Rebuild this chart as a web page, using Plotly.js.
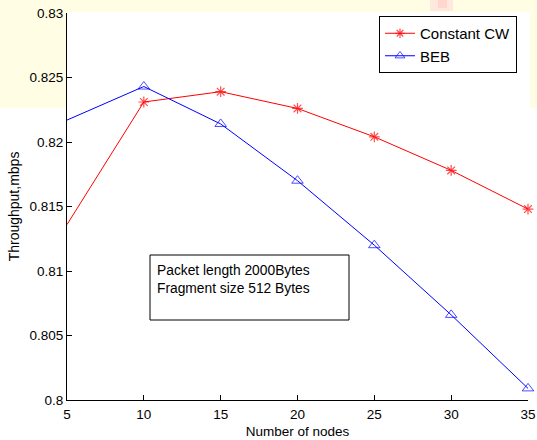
<!DOCTYPE html>
<html>
<head>
<meta charset="utf-8">
<script src="https://cdn.plot.ly/plotly-3.0.1.min.js"></script>
<style>
  html, body { margin: 0; padding: 0; background: #ffffff; }
  #chart { width: 537px; height: 440px; }
</style>
</head>
<body>
<div id="chart"></div>
<script>
// ---- data ----
const nodes = [5, 10, 15, 20, 25, 30, 35];
const constantCW = [0.8136, 0.8231, 0.8239, 0.8226, 0.8204, 0.8178, 0.8148];
const beb = [0.8217, 0.8243, 0.8214, 0.8170, 0.8120, 0.8066, 0.8009];
const seriesNames = ['Constant CW', 'BEB'];
const xTickVals = [5, 10, 15, 20, 25, 30, 35];
const yTickVals = [0.8, 0.805, 0.81, 0.815, 0.82, 0.825, 0.83];
const yTickText = ['0.8', '0.805', '0.81', '0.815', '0.82', '0.825', '0.83'];
const noteLines = ['Packet length 2000Bytes', 'Fragment size 512 Bytes'];
const xTitle = 'Number of nodes';
const yTitle = 'Throughput,mbps';

const FONT = 'Liberation Sans, Arial, Helvetica, sans-serif';
// first point sits on the axis edge and shows no marker in the reference
const markerSizes = (s) => nodes.map((_, i) => (i === 0 ? 0 : s));

const traces = [
  {
    x: nodes, y: constantCW, name: seriesNames[0], type: 'scatter', mode: 'lines+markers',
    line: { color: '#ff0000', width: 1 },
    marker: { symbol: 'asterisk-open', size: markerSizes(9), color: '#ff0000',
              line: { color: '#ff0000', width: 1.2 } },
    cliponaxis: false
  },
  {
    x: nodes, y: beb, name: seriesNames[1], type: 'scatter', mode: 'lines+markers',
    line: { color: '#0000ff', width: 1 },
    marker: { symbol: 'triangle-up-open', size: markerSizes(10), color: '#0000ff',
              line: { color: '#0000ff', width: 1 } },
    cliponaxis: false
  }
];

// pixel-to-paper helpers for decoration (plot area 67..528 x, 13..400 y)
const PL = 67, PR = 528, PT = 13, PB = 400;
const px = v => (v - PL) / (PR - PL);
const py = v => (PB - v) / (PB - PT);
const YEL = 'rgb(255,253,228)';
const bgRect = (x0, x1, y0, y1, c) => ({
  type: 'rect', xref: 'paper', yref: 'paper', layer: 'below',
  x0: px(x0), x1: px(x1), y0: py(y1), y1: py(y0), fillcolor: c, line: { width: 0 }
});

const layout = {
  width: 537, height: 440,
  margin: { l: PL, r: 537 - PR, t: PT, b: 440 - PB, pad: 0 },
  paper_bgcolor: '#ffffff',
  plot_bgcolor: '#ffffff',
  font: { family: FONT, size: 13, color: '#000000' },
  showlegend: true,
  legend: {
    x: px(517), xanchor: 'right', y: py(16), yanchor: 'top',
    bgcolor: '#ffffff', bordercolor: '#000000', borderwidth: 1,
    font: { family: FONT, size: 15, color: '#000000' }
  },
  xaxis: {
    range: [5, 35], tickvals: xTickVals, ticks: 'inside', ticklen: 5, tickwidth: 1,
    tickcolor: '#000000', showline: true, linecolor: '#000000', linewidth: 1,
    showgrid: false, zeroline: false, mirror: false,
    tickfont: { family: FONT, size: 13.5, color: '#000000' },
    ticklabelstandoff: 2,
    title: { text: xTitle, font: { family: FONT, size: 13.5, color: '#000000' }, standoff: 5 }
  },
  yaxis: {
    range: [0.8, 0.83], tickvals: yTickVals, ticktext: yTickText, ticks: 'inside', ticklen: 5,
    tickwidth: 1, tickcolor: '#000000', showline: true, linecolor: '#000000', linewidth: 1,
    showgrid: false, zeroline: false, mirror: false,
    tickfont: { family: FONT, size: 13.5, color: '#000000' },
    title: { text: yTitle, font: { family: FONT, size: 14, color: '#000000' }, standoff: 6 }
  },
  shapes: [
    // pale yellow page tint around the top of the figure (outside the axes area)
    bgRect(0, 67, 0, 108, YEL),
    bgRect(67, 530, 0, 12, YEL),
    bgRect(530, 537, 0, 108, YEL),
    bgRect(430, 453, 0, 11, 'rgb(255,232,222)'),
    bgRect(438, 447, 0, 8, 'rgb(255,215,205)'),
    // white axes area
    bgRect(67, 530, 12, 440, '#ffffff'),
    // text box
    { type: 'rect', xref: 'paper', yref: 'paper', layer: 'above',
      x0: px(150), x1: px(349), y0: py(320), y1: py(255),
      fillcolor: 'rgba(0,0,0,0)', line: { color: '#000000', width: 1 } }
  ],
  annotations: [
    { xref: 'paper', yref: 'paper', x: px(155), y: py(261), xanchor: 'left', yanchor: 'top',
      align: 'left', showarrow: false, text: noteLines.join('<br>'),
      font: { family: FONT, size: 13.8, color: '#000000' } }
  ]
};

Plotly.newPlot('chart', traces, layout, { staticPlot: true, displayModeBar: false });
</script>
</body>
</html>
